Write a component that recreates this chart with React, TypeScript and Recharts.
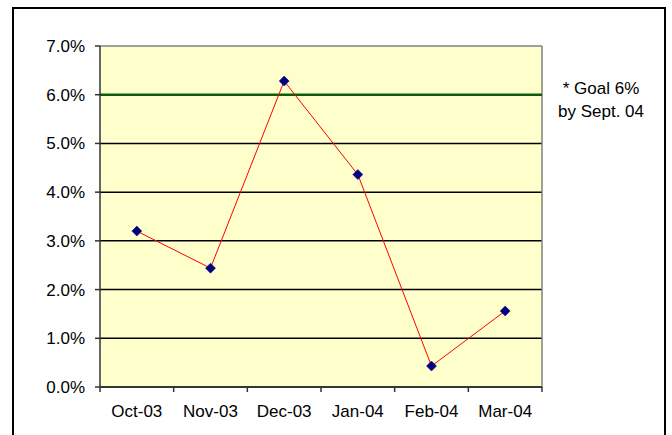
import { LineChart, Line, XAxis, YAxis, CartesianGrid, ReferenceLine } from 'recharts';

const months = ['Oct-03', 'Nov-03', 'Dec-03', 'Jan-04', 'Feb-04', 'Mar-04'];
const rates = [3.2, 2.44, 6.28, 4.36, 0.43, 1.56];
const yTicks = [0, 1, 2, 3, 4, 5, 6, 7];
const goal = 6;
const goalNote = ['* Goal 6%', 'by Sept. 04'];

const FONT = '"Liberation Sans", Arial, sans-serif';
const PLOT_W = 442;
const halfBand = PLOT_W / months.length / 2;
const TICK_MARGIN = 18;
const yMax = yTicks[yTicks.length - 1];

const data = months.map((m, i) => ({ month: m, rate: rates[i] }));

function Diamond(props: any) {
  const { cx, cy } = props;
  if (cx == null || cy == null) return null;
  const r = 5;
  return (
    <polygon
      points={`${cx},${cy - r} ${cx + r},${cy} ${cx},${cy + r} ${cx - r},${cy}`}
      fill="#000080"
      stroke="#000080"
      strokeWidth={0.5}
    />
  );
}

// category label in the middle, tick marks on the category boundaries
function MonthTick(props: any) {
  const { x, y, payload, index } = props;
  const axisY = y - TICK_MARGIN;
  const last = index === months.length - 1;
  return (
    <g>
      <line x1={x - halfBand} y1={axisY} x2={x - halfBand} y2={axisY + 5} stroke="#333" strokeWidth={1.5} />
      {last && <line x1={x + halfBand} y1={axisY} x2={x + halfBand} y2={axisY + 5} stroke="#333" strokeWidth={1.5} />}
      <text x={x} y={y} dy="0.71em" textAnchor="middle" fill="#000" fontSize={17} fontFamily={FONT}>
        {payload.value}
      </text>
    </g>
  );
}

export default function App() {
  return (
    <div style={{ position: 'absolute', left: 0, top: 0, width: 672, height: 435, overflow: 'hidden', background: '#fff', fontFamily: FONT }}>
      <div style={{ position: 'absolute', left: 12, top: 7, width: 650, height: 500, border: '2px solid #000' }} />
      <div style={{ position: 'absolute', left: 0, top: 0 }}>
        <LineChart width={672} height={435} data={data} margin={{ top: 46, right: 130, bottom: 18, left: 0 }}>
          <CartesianGrid
            vertical={false}
            horizontalValues={yTicks.slice(0, -1)}
            stroke="#000"
            strokeWidth={1.5}
            fill="#FFFFCC"
            fillOpacity={1}
          />
          {/* grey frame on the top and right of the plot area */}
          <CartesianGrid
            horizontalCoordinatesGenerator={({ offset }: any) => [offset.top]}
            verticalCoordinatesGenerator={({ offset }: any) => [offset.left + offset.width]}
            stroke="#808080"
            strokeWidth={1.5}
          />
          <XAxis
            dataKey="month"
            stroke="#333"
            strokeWidth={1.5}
            tickLine={false}
            tickSize={0}
            tickMargin={TICK_MARGIN}
            height={30}
            interval={0}
            padding={{ left: halfBand, right: halfBand }}
            tick={<MonthTick />}
          />
          <YAxis
            width={100}
            domain={[0, yMax]}
            ticks={yTicks}
            tickFormatter={(v: number) => `${v.toFixed(1)}%`}
            tickSize={5}
            tickMargin={10}
            stroke="#333"
            strokeWidth={1.5}
            tick={{ fill: '#000', fontSize: 17, fontFamily: FONT }}
          />
          <ReferenceLine y={goal} stroke="#0b5d0b" strokeWidth={2.5} />
          <Line
            dataKey="rate"
            stroke="#FF0000"
            strokeWidth={1}
            dot={<Diamond />}
            activeDot={false}
            isAnimationActive={false}
          />
        </LineChart>
      </div>
      <div style={{ position: 'absolute', left: 551, top: 77, width: 100, textAlign: 'center', fontSize: 17, lineHeight: '23px', color: '#000' }}>
        {goalNote.map((t) => (
          <div key={t}>{t}</div>
        ))}
      </div>
    </div>
  );
}
